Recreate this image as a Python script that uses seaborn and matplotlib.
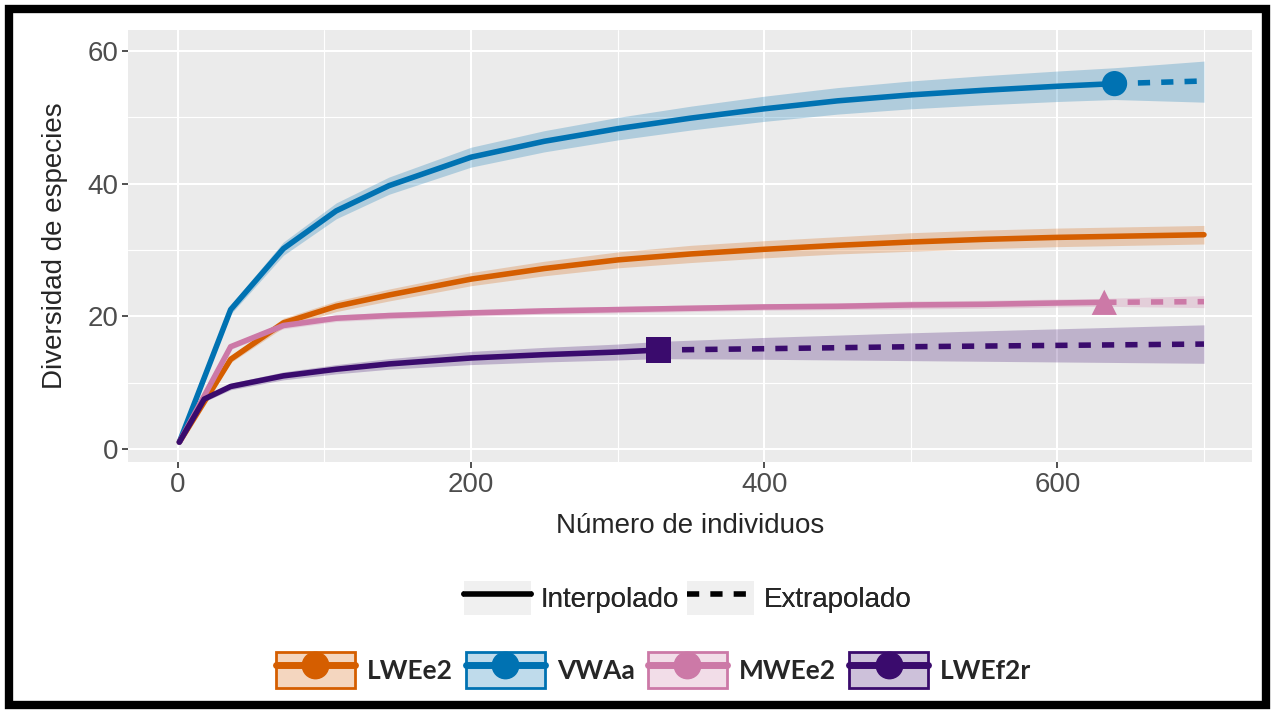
import pandas as pd
import seaborn as sns
import matplotlib.pyplot as plt
from matplotlib.lines import Line2D
from matplotlib.patches import Patch, Rectangle
from matplotlib.legend_handler import HandlerTuple
from matplotlib.colors import to_rgba

# Sites, colours and markers
sites = ["LWEe2", "VWAa", "MWEe2", "LWEf2r"]
colors = ["#D55E00", "#0072B2", "#CC79A7", "#3A0B6D"]
markers = ["o", "o", "^", "s"]
methods = ["Interpolado", "Extrapolado"]

# LWEe2 (interpolated only up to 700)
lwee2_x = [1, 36, 72, 108, 144, 200, 250, 300, 350, 400, 450, 500, 550, 600, 650, 700]
lwee2_y = [1, 13.5, 19.0, 21.5, 23.2, 25.6, 27.2, 28.5, 29.4, 30.1, 30.7, 31.2, 31.6, 31.9, 32.1, 32.3]
lwee2_lo = [1, 13.0, 18.3, 20.7, 22.3, 24.6, 26.1, 27.3, 28.1, 28.8, 29.4, 29.8, 30.2, 30.5, 30.7, 30.9]
lwee2_hi = [1, 14.0, 19.7, 22.3, 24.1, 26.6, 28.3, 29.7, 30.7, 31.4, 32.0, 32.6, 33.0, 33.3, 33.5, 33.7]
lwee2_ext_x, lwee2_ext_y, lwee2_ext_lo, lwee2_ext_hi = [], [], [], []

# VWAa
vwaa_x = [1, 36, 72, 108, 144, 200, 250, 300, 350, 400, 450, 500, 550, 600, 639]
vwaa_y = [1, 21.0, 30.2, 35.9, 39.7, 44.0, 46.4, 48.3, 49.9, 51.3, 52.5, 53.4, 54.1, 54.7, 55.1]
vwaa_lo = [1, 20.3, 29.2, 34.7, 38.4, 42.5, 44.8, 46.6, 48.1, 49.4, 50.5, 51.3, 51.9, 52.4, 52.7]
vwaa_hi = [1, 21.7, 31.2, 37.1, 41.0, 45.5, 48.0, 50.0, 51.7, 53.2, 54.5, 55.5, 56.3, 57.0, 57.5]
vwaa_ext_x = [639, 670, 700]
vwaa_ext_y = [55.1, 55.3, 55.5]
vwaa_ext_lo = [52.7, 52.5, 52.3]
vwaa_ext_hi = [57.5, 58.0, 58.5]

# MWEe2
mwee2_x = [1, 36, 72, 108, 144, 200, 250, 300, 350, 400, 450, 500, 550, 600, 632]
mwee2_y = [1, 15.4, 18.6, 19.7, 20.1, 20.5, 20.8, 21.0, 21.2, 21.4, 21.5, 21.7, 21.8, 22.0, 22.1]
mwee2_lo = [1, 15.0, 18.1, 19.2, 19.6, 20.0, 20.3, 20.5, 20.7, 20.9, 21.0, 21.1, 21.2, 21.4, 21.5]
mwee2_hi = [1, 15.8, 19.1, 20.2, 20.6, 21.0, 21.3, 21.5, 21.7, 21.9, 22.0, 22.3, 22.4, 22.6, 22.7]
mwee2_ext_x = [632, 666, 700]
mwee2_ext_y = [22.1, 22.15, 22.2]
mwee2_ext_lo = [21.5, 21.4, 21.3]
mwee2_ext_hi = [22.7, 22.9, 23.1]

# LWEf2r
lwef2r_x = [1, 18, 36, 72, 108, 144, 200, 250, 300, 328]
lwef2r_y = [1, 7.5, 9.4, 11.0, 12.0, 12.8, 13.7, 14.2, 14.6, 14.9]
lwef2r_lo = [1, 7.1, 8.9, 10.4, 11.3, 12.0, 12.7, 13.1, 13.4, 13.6]
lwef2r_hi = [1, 7.9, 9.9, 11.6, 12.7, 13.6, 14.7, 15.3, 15.8, 16.2]
lwef2r_ext_x = [328, 400, 500, 600, 700]
lwef2r_ext_y = [14.9, 15.1, 15.4, 15.6, 15.8]
lwef2r_ext_lo = [13.6, 13.5, 13.3, 13.1, 12.9]
lwef2r_ext_hi = [16.2, 16.8, 17.5, 18.1, 18.7]

# observed sample size / richness (LWEe2 falls outside the drawn range)
obs_sites = ["VWAa", "MWEe2", "LWEf2r"]
obs_x = [639, 632, 328]
obs_y = [55.1, 22.1, 14.9]

series = {
    "LWEe2": (lwee2_x, lwee2_y, lwee2_lo, lwee2_hi, lwee2_ext_x, lwee2_ext_y, lwee2_ext_lo, lwee2_ext_hi),
    "VWAa": (vwaa_x, vwaa_y, vwaa_lo, vwaa_hi, vwaa_ext_x, vwaa_ext_y, vwaa_ext_lo, vwaa_ext_hi),
    "MWEe2": (mwee2_x, mwee2_y, mwee2_lo, mwee2_hi, mwee2_ext_x, mwee2_ext_y, mwee2_ext_lo, mwee2_ext_hi),
    "LWEf2r": (lwef2r_x, lwef2r_y, lwef2r_lo, lwef2r_hi, lwef2r_ext_x, lwef2r_ext_y, lwef2r_ext_lo, lwef2r_ext_hi),
}

rows = []
for site, (x, y, lo, hi, ex, ey, elo, ehi) in series.items():
    for a, b, c, d in zip(x, y, lo, hi):
        rows.append((site, "Interpolado", a, b, c, d))
    for a, b, c, d in zip(ex, ey, elo, ehi):
        rows.append((site, "Extrapolado", a, b, c, d))
df = pd.DataFrame(rows, columns=["site", "method", "m", "qD", "lo", "hi"])
obs = pd.DataFrame({"site": obs_sites, "m": obs_x, "qD": obs_y})

palette = dict(zip(sites, colors))

sns.set_theme(style="darkgrid", rc={
    "axes.facecolor": "#EBEBEB",
    "grid.color": "white",
    "xtick.color": "#333333",
    "ytick.color": "#333333",
})
plt.rcParams["font.family"] = ["Liberation Sans", "DejaVu Sans"]

fig = plt.figure(figsize=(12.74, 7.13), dpi=100)
ax = fig.add_axes([0.1005, 0.352, 0.8825, 0.606])

# confidence bands
for site in sites:
    d = df[df["site"] == site].drop_duplicates("m").sort_values("m")
    ax.fill_between(d["m"], d["lo"], d["hi"], color=palette[site], alpha=0.25, lw=0, zorder=1)

sns.lineplot(data=df, x="m", y="qD", hue="site", style="method", palette=palette,
             hue_order=sites, style_order=methods,
             dashes={"Interpolado": "", "Extrapolado": (2.2, 2.0)},
             estimator=None, sort=True, linewidth=4, legend=False, ax=ax, zorder=3)

sns.scatterplot(data=obs, x="m", y="qD", hue="site", style="site", palette=palette,
                markers=dict(zip(sites, markers)), s=330, linewidth=0,
                legend=False, ax=ax, zorder=4)

ax.set_xlim(-34, 733)
ax.set_ylim(-2.0, 63.2)
ax.set_xticks([0, 200, 400, 600])
ax.set_yticks([0, 20, 40, 60])
ax.set_xticks([100, 300, 500, 700], minor=True)
ax.set_yticks([10, 30, 50], minor=True)
ax.grid(which="major", color="white", lw=1.5)
ax.grid(which="minor", color="white", lw=0.8)
ax.tick_params(which="major", length=4, width=1.2, labelsize=20, labelcolor="#4D4D4D", pad=3,
               bottom=True, left=True)
ax.tick_params(which="minor", length=0)
for s in ax.spines.values():
    s.set_visible(False)
ax.set_xlabel("Número de individuos", fontsize=20, labelpad=11)
ax.set_ylabel("Diversidad de especies", fontsize=20, labelpad=14)

# legend: interpolated / extrapolated
keybg = "#F0F0F0"
h1 = [(Patch(facecolor=keybg, edgecolor="none"), Line2D([], [], color="black", lw=4)),
      (Patch(facecolor=keybg, edgecolor="none"),
       Line2D([], [], color="black", lw=4, dashes=(2.2, 2.0)))]
leg1 = fig.legend(h1, methods, loc="center", bbox_to_anchor=(0.54, 0.161), ncol=2, frameon=False,
                  fontsize=20, handlelength=2.4, handleheight=1.5, handletextpad=0.35,
                  columnspacing=0.3, handler_map={tuple: HandlerTuple(ndivide=1, pad=0)})

# legend: sites
h2 = []
for c in colors:
    h2.append((Patch(facecolor=to_rgba(c, 0.25), edgecolor=c, lw=2),
               Line2D([], [], color=c, lw=5, marker="o", markersize=19)))
leg2 = fig.legend(h2, sites, loc="center", bbox_to_anchor=(0.513, 0.06), ncol=4, frameon=False,
                  handlelength=3.0, handleheight=1.75, handletextpad=0.45, columnspacing=0.5,
                  prop={"family": "Lato", "weight": "bold", "size": 19},
                  handler_map={tuple: HandlerTuple(ndivide=1, pad=0)})
fig.add_artist(leg1)

# thick black frame around the figure
fig.patches.append(Rectangle((9 / 1274, 8 / 713), 1257 / 1274, 696 / 713, transform=fig.transFigure,
                             fill=False, edgecolor="black", lw=6, zorder=10))

fig.savefig("out.png", dpi=100)
